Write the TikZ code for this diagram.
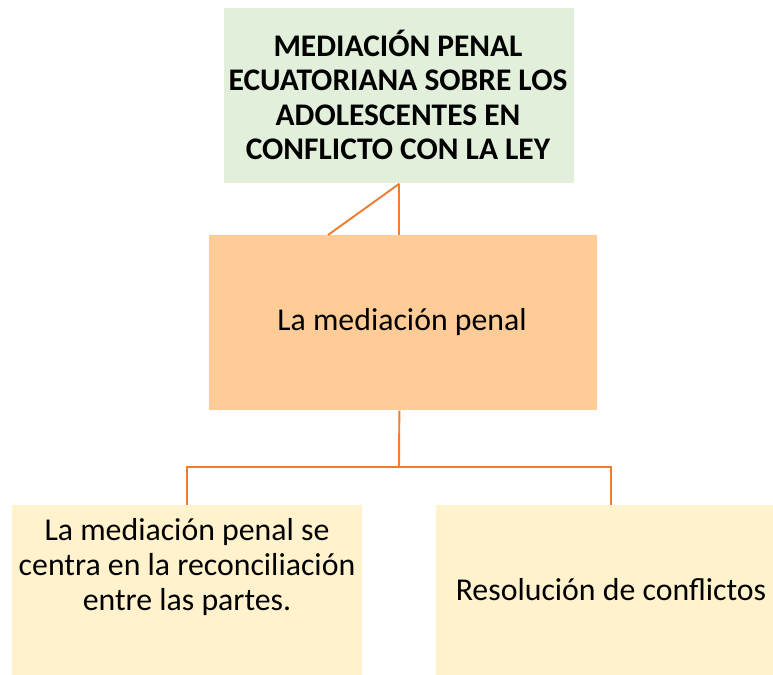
\documentclass[tikz,border=0pt]{standalone}
\usepackage{fontspec}
\setmainfont{Carlito}
\usetikzlibrary{positioning, calc}

\definecolor{titlegreen}{HTML}{E2EFDA}
\definecolor{midorange}{HTML}{FFCB96}
\definecolor{leafyellow}{HTML}{FFF2CC}
\definecolor{linkorange}{HTML}{ED7D31}

\begin{document}
\begin{tikzpicture}[
        x=0.02cm, y=-0.02cm,
        box/.style={fill, inner sep=0pt, anchor=north west},
        title/.style={align=center, font=\fontsize{17.9}{19.6}\selectfont\bfseries},
        body/.style={align=center, font=\fontsize{18.1}{19.9}\selectfont},
        link/.style={draw=linkorange, line width=1.1pt}
    ]
    \useasboundingbox (0,0) rectangle (773,675);

    % boxes
    \node (top) [box, fill=titlegreen, minimum width=350*0.02cm, minimum height=175*0.02cm] at (224,8) {};
    \node (mid) [box, fill=midorange, minimum width=388*0.02cm, minimum height=175*0.02cm] at (209,235) {};
    \node (left) [box, fill=leafyellow, minimum width=350*0.02cm, minimum height=170*0.02cm] at (12,505) {};
    \node (right) [box, fill=leafyellow, minimum width=350*0.02cm, minimum height=170*0.02cm] at (436,505) {};

    % texts
    \node (toptext) [title] at (398,95) {MEDIACIÓN PENAL\\ECUATORIANA SOBRE LOS\\ADOLESCENTES EN\\CONFLICTO CON LA LEY};
    \node (midtext) [body] at (402,322) {La mediación penal};
    \node (lefttext) [body, anchor=north] at (187,512) {La mediación penal se\\centra en la reconciliación\\entre las partes.};
    \node (righttext) [body] at (611,590) {Resolución de conflictos};

    % connectors
    \coordinate (kink) at (328,235);
    \coordinate (fork) at (399,467);
    \draw[link] (top.south) -- (top.south |- mid.north);
    \draw[link] (top.south) -- (kink);
    \draw[link] (top.south |- mid.south) -- (fork);
    \draw[link] (left.north) |- (fork) -| (right.north);
\end{tikzpicture}
\end{document}
